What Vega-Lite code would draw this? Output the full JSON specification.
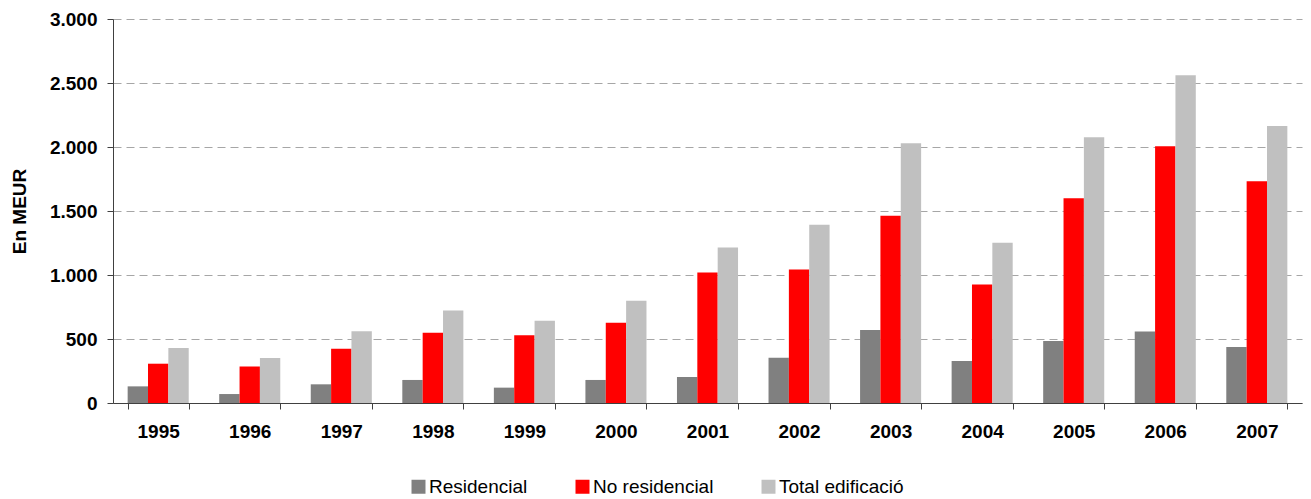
{
  "$schema": "https://vega.github.io/schema/vega-lite/v6.json",
  "width": 1189,
  "height": 384,
  "autosize": {"type": "none"},
  "padding": {"left": 113, "top": 19, "right": 9, "bottom": 96},
  "background": "white",
  "data": {
    "values": [
      {"year": "1995", "serie": "Residencial", "value": 130},
      {"year": "1995", "serie": "No residencial", "value": 307},
      {"year": "1995", "serie": "Total edificació", "value": 430},
      {"year": "1996", "serie": "Residencial", "value": 70},
      {"year": "1996", "serie": "No residencial", "value": 286},
      {"year": "1996", "serie": "Total edificació", "value": 352},
      {"year": "1997", "serie": "Residencial", "value": 146},
      {"year": "1997", "serie": "No residencial", "value": 423},
      {"year": "1997", "serie": "Total edificació", "value": 560},
      {"year": "1998", "serie": "Residencial", "value": 180},
      {"year": "1998", "serie": "No residencial", "value": 548},
      {"year": "1998", "serie": "Total edificació", "value": 722},
      {"year": "1999", "serie": "Residencial", "value": 120},
      {"year": "1999", "serie": "No residencial", "value": 529},
      {"year": "1999", "serie": "Total edificació", "value": 642},
      {"year": "2000", "serie": "Residencial", "value": 180},
      {"year": "2000", "serie": "No residencial", "value": 626},
      {"year": "2000", "serie": "Total edificació", "value": 798},
      {"year": "2001", "serie": "Residencial", "value": 203},
      {"year": "2001", "serie": "No residencial", "value": 1020},
      {"year": "2001", "serie": "Total edificació", "value": 1215},
      {"year": "2002", "serie": "Residencial", "value": 354},
      {"year": "2002", "serie": "No residencial", "value": 1043},
      {"year": "2002", "serie": "Total edificació", "value": 1393},
      {"year": "2003", "serie": "Residencial", "value": 571},
      {"year": "2003", "serie": "No residencial", "value": 1463},
      {"year": "2003", "serie": "Total edificació", "value": 2029},
      {"year": "2004", "serie": "Residencial", "value": 329},
      {"year": "2004", "serie": "No residencial", "value": 926},
      {"year": "2004", "serie": "Total edificació", "value": 1252},
      {"year": "2005", "serie": "Residencial", "value": 485},
      {"year": "2005", "serie": "No residencial", "value": 1599},
      {"year": "2005", "serie": "Total edificació", "value": 2076},
      {"year": "2006", "serie": "Residencial", "value": 558},
      {"year": "2006", "serie": "No residencial", "value": 2006},
      {"year": "2006", "serie": "Total edificació", "value": 2561},
      {"year": "2007", "serie": "Residencial", "value": 438},
      {"year": "2007", "serie": "No residencial", "value": 1732},
      {"year": "2007", "serie": "Total edificació", "value": 2164}
    ]
  },
  "mark": {"type": "bar"},
  "encoding": {
    "x": {
      "field": "year",
      "type": "nominal",
      "scale": {"paddingInner": 0.333, "paddingOuter": 0.16},
      "axis": {
        "title": null,
        "labelAngle": 0,
        "labelFont": "Liberation Sans",
        "labelFontWeight": "bold",
        "labelFontSize": 19,
        "labelColor": "black",
        "labelPadding": 13,
        "tickBand": "extent",
        "tickSize": 6,
        "tickColor": "#404040",
        "domainColor": "#404040",
        "grid": false
      }
    },
    "xOffset": {
      "field": "serie",
      "type": "nominal",
      "sort": ["Residencial", "No residencial", "Total edificació"],
      "scale": {"paddingInner": 0, "paddingOuter": 0}
    },
    "y": {
      "field": "value",
      "type": "quantitative",
      "scale": {"domain": [0, 3000], "nice": false},
      "axis": {
        "title": "En MEUR",
        "titleFont": "Liberation Sans",
        "titleFontWeight": "bold",
        "titleFontSize": 19,
        "titleColor": "black",
        "titlePadding": 20,
        "values": [0, 500, 1000, 1500, 2000, 2500, 3000],
        "labelExpr": "replace(format(datum.value, ','), ',', '.')",
        "labelFont": "Liberation Sans",
        "labelFontWeight": "bold",
        "labelFontSize": 19,
        "labelColor": "black",
        "labelPadding": 10,
        "tickSize": 6,
        "tickColor": "#404040",
        "domainColor": "#404040",
        "grid": true,
        "gridColor": "#a6a6a6",
        "gridDash": [8, 5],
        "gridWidth": 1
      }
    },
    "color": {
      "field": "serie",
      "type": "nominal",
      "sort": ["Residencial", "No residencial", "Total edificació"],
      "scale": {
        "domain": ["Residencial", "No residencial", "Total edificació"],
        "range": ["#808080", "#ff0000", "#c0c0c0"]
      },
      "legend": {
        "title": null,
        "orient": "none",
        "direction": "horizontal",
        "legendX": 296,
        "legendY": 458,
        "padding": 0,
        "symbolType": "square",
        "symbolSize": 196,
        "symbolStrokeWidth": 0,
        "labelFont": "Liberation Sans",
        "labelFontSize": 19,
        "labelColor": "black",
        "labelOffset": 1,
        "columnPadding": 45
      }
    }
  },
  "config": {
    "view": {"stroke": null},
    "axis": {"domainWidth": 1, "tickWidth": 1}
  }
}
